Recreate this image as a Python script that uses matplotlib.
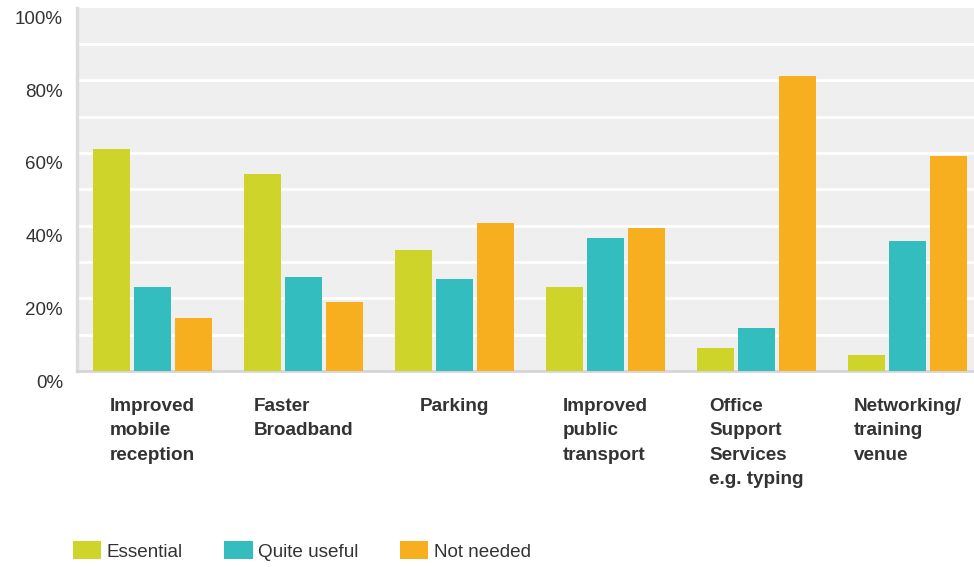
import numpy as np
import matplotlib
matplotlib.use("Agg")
import matplotlib.pyplot as plt
from matplotlib.transforms import ScaledTranslation

# Data (percent of respondents)
categories = ["Improved\nmobile\nreception", "Faster\nBroadband", "Parking",
              "Improved\npublic\ntransport", "Office\nSupport\nServices\ne.g. typing",
              "Networking/\ntraining\nvenue"]
essential = [61.0, 54.1, 33.2, 23.0, 6.2, 4.3]
quite_useful = [23.0, 25.8, 25.2, 36.5, 11.7, 35.7]
not_needed = [14.7, 19.1, 40.6, 39.3, 81.1, 59.1]
series_names = ["Essential", "Quite useful", "Not needed"]
colors = ["#CED429", "#33BDBF", "#F7AF1F"]
ytick_vals = [0, 20, 40, 60, 80, 100]

plt.rcParams['font.family'] = ['Liberation Sans', 'DejaVu Sans']
text_col = "#333333"

fig = plt.figure(figsize=(9.74, 5.67), dpi=100)
ax = fig.add_axes([77/974, 1 - 371/567, (983 - 77)/974, (371 - 7.5)/567])
ax.set_facecolor("#EFEFEF")

x = np.arange(len(categories))
w = 0.245
off = 0.272
for i, (vals, name, c) in enumerate(zip([essential, quite_useful, not_needed], series_names, colors)):
    ax.bar(x + (i - 1) * off, vals, width=w, color=c, label=name, zorder=3)

ax.set_xlim(-0.5, len(categories) - 0.5)
ax.set_ylim(0, 100)

# white gridlines every 10%
for g in range(10, 100, 10):
    ax.axhline(g, color='white', lw=2, zorder=1)
ax.set_yticks(ytick_vals)
ax.set_yticklabels(["%d%%" % v for v in ytick_vals], fontsize=13.5, color=text_col)
ax.tick_params(axis='y', length=0, pad=10)
for lab in ax.get_yticklabels():
    lab.set_transform(lab.get_transform() + ScaledTranslation(0, -0.1, fig.dpi_scale_trans))

ax.set_xticks([])
for i, cat in enumerate(categories):
    ax.text(x[i], -7.5, cat, ha='center', va='top', multialignment='left',
            fontsize=13.6, fontweight='bold', color=text_col, linespacing=1.55,
            transform=ax.transData, clip_on=False)

for s in ['top', 'right']:
    ax.spines[s].set_visible(False)
ax.spines['left'].set_color('#DCDCDC')
ax.spines['left'].set_linewidth(2.5)
ax.spines['bottom'].set_color('#D5D5D5')
ax.spines['bottom'].set_linewidth(2)

fig.legend(loc='center left', bbox_to_anchor=(65/974, 1 - 551/567), ncol=3,
           frameon=False, fontsize=13.6, handlelength=1.5, handleheight=1.1,
           handletextpad=0.3, columnspacing=2.2, labelcolor=text_col, borderaxespad=0)

fig.savefig("out.png", dpi=100, facecolor='white')
